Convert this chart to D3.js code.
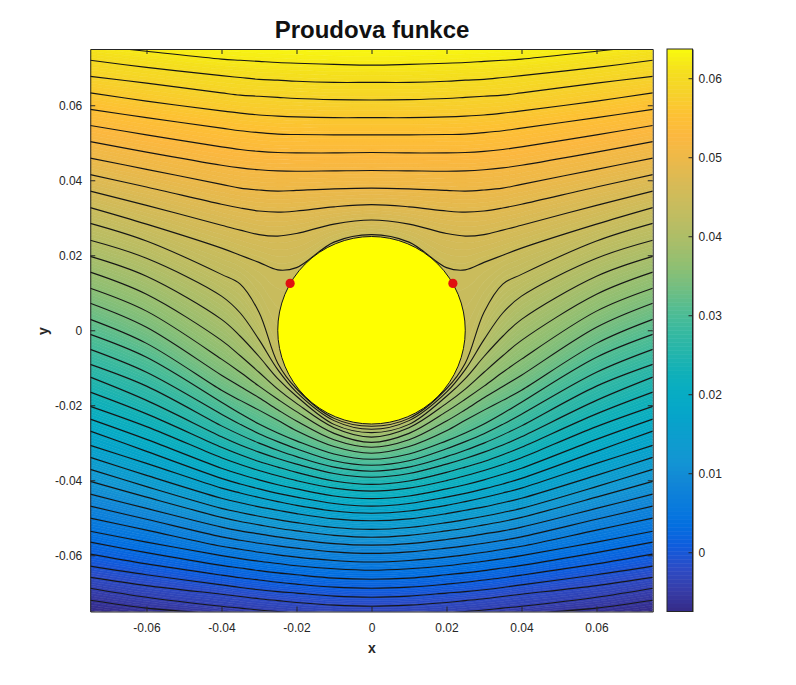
<!DOCTYPE html>
<html>
<head>
<meta charset="utf-8">
<script src="https://cdn.jsdelivr.net/npm/d3@7"></script>
<style>
  body { margin: 0; background: #fff; }
  text { font-family: "Liberation Sans", Arial, sans-serif; fill: #262626; }
</style>
</head>
<body>
<svg width="796" height="685"></svg>
<script>
// contour values (top to bottom)
const levels = [0.0637, 0.0620, 0.0602, 0.0585, 0.0567, 0.0550, 0.0533, 0.0515, 0.0498, 0.0481, 0.0463,
  0.0446, 0.0429, 0.0411, 0.0394, 0.0376, 0.0359, 0.0342, 0.0324, 0.0307, 0.0290,
  0.0272, 0.0255, 0.0237, 0.0220, 0.0203, 0.0185, 0.0168, 0.0151, 0.0133, 0.0116,
  0.0098, 0.0081, 0.0064, 0.0046, 0.0029, 0.0012, -0.0006, -0.0023, -0.0040, -0.0058, -0.0075];

// x of the stations where the lines were read (in 1e-3), left half only, the plot is symmetric
const stations = [-75, -60, -40, -35, -30, -25, -20, -10, 0];

// y of every streamline at those stations (in 1e-3)
const lineY = [
  [81.5, 80.0, 78.0, 77.5, 77.2, 77.0, 76.8, 76.5, 76.4],
  [76.0, 74.4, 72.3, 72.0, 71.7, 71.4, 71.2, 70.9, 70.7],
  [72.0, 70.1, 67.9, 67.4, 66.9, 66.7, 66.4, 66.1, 66.1],
  [67.7, 65.9, 63.3, 62.7, 62.4, 62.1, 61.8, 61.5, 61.4],
  [63.3, 61.1, 58.5, 57.9, 57.4, 57.1, 56.9, 56.7, 56.7],
  [58.9, 56.7, 53.9, 53.2, 52.7, 52.3, 52.2, 52.1, 52.1],
  [54.6, 52.1, 48.9, 48.2, 47.7, 47.4, 47.3, 47.3, 47.4],
  [50.3, 47.5, 44.0, 43.3, 42.8, 42.5, 42.4, 42.5, 42.6],
  [45.9, 42.9, 38.9, 37.9, 37.4, 37.1, 37.3, 37.7, 37.9],
  [41.5, 38.2, 33.6, 32.6, 31.8, 31.5, 31.8, 32.9, 33.5],
  [37.1, 33.3, 28.0, 26.7, 25.5, 25.1, 25.8, 28.3, 29.4],
  [32.7, 28.3, 21.9, 20.0, 18.1, 16.1, 16.7, 23.5, 25.5],
  [28.5, 23.8, 14.9, 12.3, 4.8, -8.8, -15.6, -23.5, -25.6],
  [24.0, 19.2, 9.1, 4.6, -2.5, -10.5, -16.5, -24.1, -26.4],
  [19.7, 14.4, 2.9, -1.6, -7.0, -12.9, -17.6, -25.1, -27.3],
  [15.5, 9.6, -2.7, -6.8, -11.2, -15.7, -19.5, -26.0, -28.5],
  [11.2, 5.1, -7.7, -11.2, -14.9, -18.4, -21.7, -27.5, -29.9],
  [7.2, 0.8, -12.0, -15.0, -18.0, -21.2, -24.2, -29.2, -31.2],
  [2.9, -3.5, -16.0, -18.7, -21.3, -24.0, -26.8, -31.0, -32.8],
  [-1.1, -7.2, -19.2, -22.2, -25.0, -27.4, -29.5, -33.0, -34.4],
  [-5.1, -11.2, -22.4, -25.1, -27.6, -29.7, -31.6, -34.8, -36.0],
  [-9.1, -14.9, -25.5, -27.9, -30.1, -32.0, -33.7, -36.5, -37.6],
  [-12.5, -18.7, -28.4, -30.6, -32.5, -34.2, -35.7, -38.2, -39.2],
  [-16.5, -22.3, -31.2, -33.2, -35.0, -36.5, -37.9, -40.2, -41.1],
  [-20.3, -25.7, -34.0, -35.8, -37.4, -38.8, -40.1, -42.1, -42.9],
  [-23.7, -29.1, -36.8, -38.4, -39.9, -41.2, -42.3, -44.2, -44.9],
  [-26.9, -32.3, -39.5, -41.0, -42.3, -43.5, -44.5, -46.2, -46.9],
  [-30.7, -35.5, -42.1, -43.4, -44.6, -45.7, -46.7, -48.2, -48.8],
  [-33.9, -38.7, -44.8, -46.0, -47.1, -48.0, -48.9, -50.3, -50.8],
  [-37.1, -41.7, -47.5, -48.6, -49.6, -50.5, -51.3, -52.6, -53.1],
  [-40.3, -44.5, -49.9, -51.0, -51.9, -52.8, -53.5, -54.7, -55.2],
  [-43.7, -47.5, -52.5, -53.5, -54.3, -55.1, -55.8, -56.9, -57.3],
  [-46.9, -50.4, -55.1, -56.0, -56.8, -57.5, -58.1, -59.1, -59.5],
  [-50.1, -53.3, -57.6, -58.4, -59.2, -59.9, -60.5, -61.4, -61.8],
  [-53.6, -56.5, -60.1, -60.9, -61.6, -62.2, -62.8, -63.6, -64.0],
  [-56.5, -59.3, -62.7, -63.4, -64.1, -64.7, -65.2, -66.1, -66.4],
  [-59.7, -62.3, -65.3, -66.0, -66.6, -67.2, -67.7, -68.5, -68.8],
  [-62.9, -65.2, -67.9, -68.6, -69.2, -69.7, -70.1, -70.9, -71.2],
  [-65.9, -68.1, -70.4, -71.0, -71.6, -72.1, -72.6, -73.3, -73.6],
  [-68.8, -71.2, -73.6, -74.1, -74.6, -75.0, -75.4, -75.9, -76.0],
  [-72.0, -74.1, -75.7, -76.2, -76.7, -77.2, -77.5, -78.2, -78.4],
  [-75.1, -76.8, -78.4, -78.9, -79.3, -79.7, -80.0, -80.6, -80.8]
];

const xTicks = [-0.06, -0.04, -0.02, 0, 0.02, 0.04, 0.06];
const yTicks = [-0.06, -0.04, -0.02, 0, 0.02, 0.04, 0.06];
const barTicks = [0, 0.01, 0.02, 0.03, 0.04, 0.05, 0.06];
const stagnation = [[-0.0217, 0.0125], [0.0217, 0.0125]];
const cylinderR = 0.025;
const barMin = -0.0075, barMax = 0.0637;

// parula, every third entry
const parula = ["#352a87", "#363da9", "#2c4cc6", "#0f5cdd", "#036fe0", "#0a7cdc", "#1287d6", "#1396d3",
  "#0d9dce", "#06a4ca", "#07acc4", "#0fb0b9", "#24b5ab", "#38b99f", "#53bd91", "#74be80", "#90bf72",
  "#a7be6a", "#bbbd63", "#cbbc5c", "#dcba54", "#eeb948", "#fcb83f", "#fdc233", "#f6d22a", "#f5e01d", "#f9fb0e"];

const margin = { left: 90.25, top: 49, right: 143.25, bottom: 74 };
const width = 562.5, height = 562.5;

const svg = d3.select("svg");

const xScale = d3.scaleLinear().domain([-0.075, 0.075]).range([margin.left, margin.left + width]);
const yScale = d3.scaleLinear().domain([-0.075, 0.075]).range([margin.top + height, margin.top]);

const barScale = d3.scaleLinear().domain([barMin, barMax]).range([margin.top + height, margin.top]);
const color = d3.scaleLinear()
  .domain(parula.map((c, i) => barMin + (barMax - barMin) * i / (parula.length - 1)))
  .range(parula);

// mirror the stations over to the right side
const fullX = stations.concat(stations.slice(0, -1).reverse().map(v => -v)).map(v => v / 1000);
const fullLine = ys => ys.concat(ys.slice(0, -1).reverse()).map(v => v / 1000);
const lines = lineY.map(fullLine);

svg.append("defs").append("clipPath").attr("id", "plotClip")
  .append("rect")
  .attr("x", margin.left).attr("y", margin.top)
  .attr("width", width).attr("height", height);

const plot = svg.append("g").attr("clip-path", "url(#plotClip)");

const smooth = d3.curveCatmullRom.alpha(0.5);

// background: bands between neighbouring lines, 5 shades each so it looks smooth
const bandArea = d3.area()
  .x((d, i) => xScale(fullX[i]))
  .y0(d => yScale(d[0]))
  .y1(d => yScale(d[1]))
  .curve(smooth);

const shades = 5;
for (let i = 0; i < lines.length - 1; i++) {
  for (let k = 0; k < shades; k++) {
    const t0 = k / shades, t1 = (k + 1) / shades;
    const pts = lines[i].map((y, j) => {
      const yb = lines[i + 1][j];
      return [y + (yb - y) * t0, y + (yb - y) * t1];
    });
    const value = levels[i] + (levels[i + 1] - levels[i]) * (t0 + t1) / 2;
    plot.append("path")
      .attr("d", bandArea(pts))
      .attr("fill", color(value))
      .attr("stroke", color(value))
      .attr("stroke-width", 0.6);
  }
}

const lineGen = d3.line()
  .x((d, i) => xScale(fullX[i]))
  .y(d => yScale(d))
  .curve(smooth);

plot.selectAll(".stream")
  .data(lines)
  .enter()
  .append("path")
  .attr("class", "stream")
  .attr("d", lineGen)
  .attr("fill", "none")
  .attr("stroke", "#161616")
  .attr("stroke-width", 1.1);

// cylinder
plot.append("circle")
  .attr("cx", xScale(0))
  .attr("cy", yScale(0))
  .attr("r", xScale(cylinderR) - xScale(0))
  .attr("fill", "#ffff00")
  .attr("stroke", "#161616")
  .attr("stroke-width", 1);

plot.selectAll(".stag")
  .data(stagnation)
  .enter()
  .append("circle")
  .attr("class", "stag")
  .attr("cx", d => xScale(d[0]))
  .attr("cy", d => yScale(d[1]))
  .attr("r", 4.6)
  .attr("fill", "#e01010");

// axes, MATLAB style: ticks point inwards, box on all sides
const fmt = d => d === 0 ? "0" : String(d);

function styleAxis(g) {
  g.selectAll("path").attr("stroke", "#262626");
  g.selectAll("line").attr("stroke", "#262626");
  g.selectAll("text").attr("font-size", "12px").attr("fill", "#404040");
}

svg.append("g")
  .attr("transform", `translate(0,${margin.top + height})`)
  .call(d3.axisBottom(xScale).tickValues(xTicks).tickFormat(fmt).tickSize(-5).tickSizeOuter(0).tickPadding(12))
  .call(styleAxis);
svg.append("g")
  .attr("transform", `translate(0,${margin.top})`)
  .call(d3.axisTop(xScale).tickValues(xTicks).tickFormat("").tickSize(-5).tickSizeOuter(0))
  .call(styleAxis);
svg.append("g")
  .attr("transform", `translate(${margin.left},0)`)
  .call(d3.axisLeft(yScale).tickValues(yTicks).tickFormat(fmt).tickSize(-5).tickSizeOuter(0).tickPadding(8))
  .call(styleAxis);
svg.append("g")
  .attr("transform", `translate(${margin.left + width},0)`)
  .call(d3.axisRight(yScale).tickValues(yTicks).tickFormat("").tickSize(-5).tickSizeOuter(0))
  .call(styleAxis);

// colorbar
const barX = 667, barW = 25.5;
const barSteps = d3.range(0, 140);
svg.append("g").selectAll("rect")
  .data(barSteps)
  .enter()
  .append("rect")
  .attr("x", barX)
  .attr("width", barW)
  .attr("y", d => margin.top + d * height / barSteps.length)
  .attr("height", height / barSteps.length + 0.5)
  .attr("fill", d => color(barScale.invert(margin.top + (d + 0.5) * height / barSteps.length)));

svg.append("rect")
  .attr("x", barX).attr("y", margin.top)
  .attr("width", barW).attr("height", height)
  .attr("fill", "none").attr("stroke", "#262626");

svg.append("g")
  .attr("transform", `translate(${barX + barW},0)`)
  .call(d3.axisRight(barScale).tickValues(barTicks).tickFormat(fmt).tickSize(-4).tickSizeOuter(0).tickPadding(6))
  .call(styleAxis);

// labels
svg.append("text")
  .attr("x", 372).attr("y", 38)
  .attr("text-anchor", "middle")
  .attr("font-size", "24px")
  .attr("font-weight", "bold")
  .style("fill", "#111")
  .text("Proudova funkce");

svg.append("text")
  .attr("x", 372).attr("y", 653)
  .attr("text-anchor", "middle")
  .attr("font-size", "14px")
  .attr("font-weight", "bold")
  .text("x");

svg.append("text")
  .attr("transform", "translate(48,331) rotate(-90)")
  .attr("text-anchor", "middle")
  .attr("font-size", "14px")
  .attr("font-weight", "bold")
  .text("y");
</script>
</body>
</html>
